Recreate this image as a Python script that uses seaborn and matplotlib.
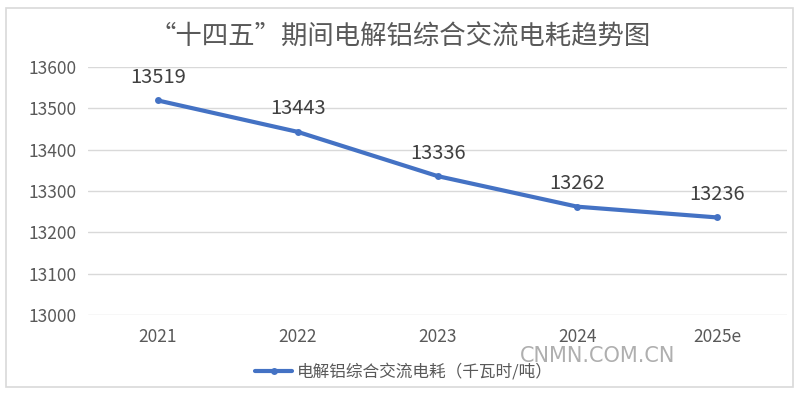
import matplotlib
matplotlib.use("Agg")
import matplotlib.pyplot as plt
import seaborn as sns
import pandas as pd
from matplotlib.patches import Rectangle

years = ["2021", "2022", "2023", "2024", "2025e"]
values = [13519, 13443, 13336, 13262, 13236]
yticks = [13000, 13100, 13200, 13300, 13400, 13500, 13600]
series_name = "电解铝综合交流电耗（千瓦时/吨）"
title = "“十四五”期间电解铝综合交流电耗趋势图"

sns.set_theme(style="white")
plt.rcParams['font.family'] = ['Noto Sans CJK SC', 'DejaVu Sans']

df = pd.DataFrame({"year": years, "value": values, "series": series_name})

fig = plt.figure(figsize=(8, 3.94), dpi=100)
fig.patches.append(Rectangle((0.007, 0.018), 0.984, 0.962, transform=fig.transFigure,
                             fill=False, edgecolor="#d9d9d9", linewidth=1.2))
ax = fig.add_axes([0.11, 0.2005, 0.874, 0.6295])

line_color = "#4472C4"
sns.lineplot(data=df, x="year", y="value", hue="series", palette=[line_color],
             marker="o", markersize=5, linewidth=3, markeredgewidth=0, ax=ax, sort=False)

ax.set_xlim(-0.5, len(years) - 0.5)
ax.set_ylim(13000, 13600)
ax.set_yticks(yticks)
ax.set_yticklabels([str(t) for t in yticks])
ax.grid(axis="y", color="#d9d9d9", linewidth=1)
ax.set_axisbelow(True)
for s in ax.spines.values():
    s.set_visible(False)
ax.tick_params(axis="y", length=0, labelsize=12.5, colors="#595959", pad=8)
ax.tick_params(axis="x", length=0, labelsize=12.5, colors="#595959", pad=9)
ax.set_xlabel("")
ax.set_ylabel("")

for i, v in enumerate(values):
    ax.annotate(str(v), (i, v), xytext=(0, 9), textcoords="offset points",
                ha="center", va="bottom", fontsize=14.5, color="#404040")

fig.text(0.5, 0.905, title, ha="center", va="center", fontsize=19, color="#595959")

leg = ax.legend(loc="center", bbox_to_anchor=(0.505, 0.055), bbox_transform=fig.transFigure,
                frameon=False, fontsize=12, handlelength=2.2, handletextpad=0.3)
for t in leg.get_texts():
    t.set_color("#595959")

fig.text(0.747, 0.097, "CNMN.COM.CN", ha="center", va="center", fontsize=15,
         color="#a6a6a6", family=["DejaVu Sans"], alpha=0.9)

fig.savefig("out.png", dpi=100)
